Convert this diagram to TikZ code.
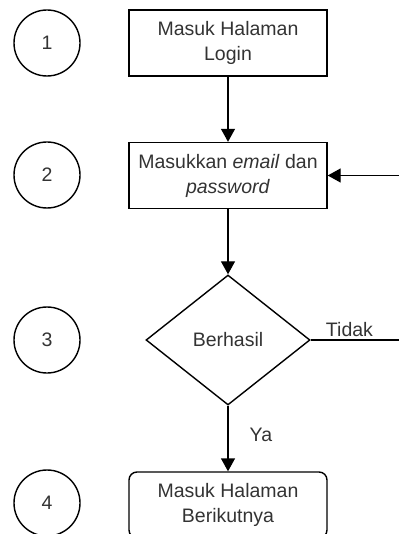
\documentclass[tikz,border=0pt]{standalone}
\usepackage{fontspec}
\setmainfont{Liberation Sans}
\usetikzlibrary{shapes.geometric,arrows.meta}
\definecolor{txt}{HTML}{333333}
\tikzset{
  base/.style={line width=1.4pt, draw=black, text=txt, font=\fontsize{19.5}{25}\selectfont, align=center, inner sep=0pt},
  numc/.style={base, circle, minimum size=66pt},
  procbox/.style={base, rectangle, minimum width=198pt, minimum height=66pt},
  endbox/.style={procbox, rounded corners=8pt},
  decis/.style={base, diamond, minimum width=164pt, minimum height=130pt},
  conn/.style={line width=1.4pt, -{Triangle[length=13pt,width=14pt]}},
  plain/.style={line width=1.4pt},
  lbl/.style={text=txt, font=\fontsize{19.5}{25}\selectfont, inner sep=0pt}
}
\begin{document}
\begin{tikzpicture}[x=1pt,y=-1pt]
\useasboundingbox (0,0) rectangle (398,534);
\node[numc] (c1) at (47,43) {1};
\node[numc] (c2) at (47,175) {2};
\node[numc] (c3) at (47,340) {3};
\node[numc] (c4) at (47,503) {4};
\node[procbox] (b1) at (228,43) {Masuk Halaman\\Login};
\node[procbox] (b2) at (228,175.5) {Masukkan \textit{email} dan\\\textit{password}};
\node[decis] (d3) at (228,340) {Berhasil};
\node[endbox] (b4) at (228,505) {Masuk Halaman\\Berikutnya};
\coordinate (r1) at (403,340);
\coordinate (r2) at (403,175.5);
\draw[conn] (b1) -- (b2);
\draw[conn] (b2) -- (d3);
\draw[conn] (d3) -- (b4) node[lbl, pos=0.45, right=21pt] (ya) {Ya};
\draw[plain] (d3.east) -- (r1) node[lbl, pos=0.42, above=3pt] (td) {Tidak};
\draw[conn] (r1) -- (r2) -- (b2.east);
\end{tikzpicture}
\end{document}
